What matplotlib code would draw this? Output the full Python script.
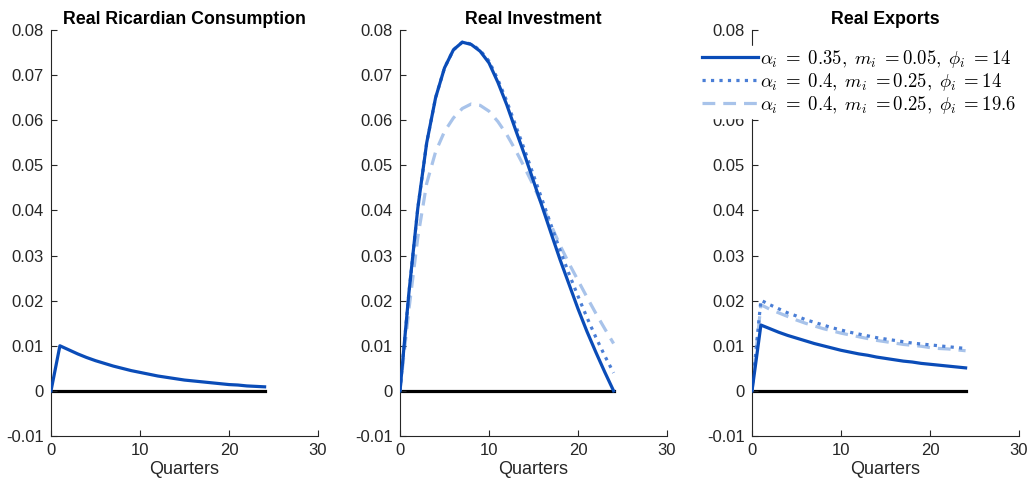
import numpy as np
import matplotlib
matplotlib.use("Agg")
import matplotlib.pyplot as plt

plt.rcParams['font.family'] = ['Liberation Sans', 'DejaVu Sans']
plt.rcParams['mathtext.fontset'] = 'cm'

# data: impulse responses, quarters 0..24
quarters = list(range(25))

cons_base = [0, 0.0100, 0.0091, 0.0082, 0.0074, 0.0067, 0.0061, 0.0055, 0.0050, 0.0045,
             0.0041, 0.0037, 0.0033, 0.0030, 0.0027, 0.0024, 0.0022, 0.0020, 0.0018,
             0.0016, 0.0014, 0.0013, 0.0011, 0.0010, 0.0009]

inv_base = [0, 0.0217, 0.0405, 0.0550, 0.0650, 0.0716, 0.0756, 0.0773, 0.0768, 0.0753,
            0.0727, 0.0684, 0.0634, 0.0578, 0.0523, 0.0465, 0.0407, 0.0348, 0.0290,
            0.0236, 0.0182, 0.0132, 0.0086, 0.0042, 0.0]
inv_alt = [0, 0.0217, 0.0405, 0.0550, 0.0650, 0.0716, 0.0756, 0.0773, 0.0769, 0.0755,
           0.0731, 0.0690, 0.0642, 0.0588, 0.0534, 0.0478, 0.0422, 0.0366, 0.0311,
           0.0259, 0.0210, 0.0163, 0.0119, 0.0078, 0.0040]
inv_phi = [0, 0.0180, 0.0340, 0.0460, 0.0530, 0.0575, 0.0605, 0.0626, 0.0636, 0.0633,
           0.0620, 0.0597, 0.0568, 0.0533, 0.0495, 0.0455, 0.0411, 0.0366, 0.0322,
           0.0282, 0.0245, 0.0208, 0.0172, 0.0138, 0.0105]

exp_base = [0, 0.0146, 0.0138, 0.0130, 0.0123, 0.0117, 0.0111, 0.0105, 0.0100, 0.0095,
            0.0090, 0.0086, 0.0082, 0.0079, 0.0075, 0.0072, 0.0069, 0.0066, 0.0064,
            0.0061, 0.0059, 0.0057, 0.0055, 0.0053, 0.0051]
exp_alt = [0, 0.0201, 0.0191, 0.0182, 0.0173, 0.0166, 0.0158, 0.0152, 0.0146, 0.0140,
           0.0135, 0.0130, 0.0126, 0.0122, 0.0118, 0.0115, 0.0112, 0.0109, 0.0106,
           0.0104, 0.0102, 0.0100, 0.0098, 0.0096, 0.0094]
exp_phi = [0, 0.0191, 0.0181, 0.0173, 0.0165, 0.0157, 0.0150, 0.0144, 0.0138, 0.0133,
           0.0128, 0.0124, 0.0120, 0.0116, 0.0112, 0.0109, 0.0106, 0.0103, 0.0101,
           0.0099, 0.0096, 0.0094, 0.0093, 0.0091, 0.0089]

titles = ["Real Ricardian Consumption", "Real Investment", "Real Exports"]
labels = [r'$\alpha_i\;=\;0.35,\;m_i\;=0.05,\;\phi_i\;=14$',
          r'$\alpha_i\;=\;0.4,\;m_i\;=0.25,\;\phi_i\;=14$',
          r'$\alpha_i\;=\;0.4,\;m_i\;=0.25,\;\phi_i\;=19.6$']
yticks = [-0.01, 0, 0.01, 0.02, 0.03, 0.04, 0.05, 0.06, 0.07, 0.08]
ytick_labels = ['-0.01', '0', '0.01', '0.02', '0.03', '0.04', '0.05', '0.06', '0.07', '0.08']
xticks = [0, 10, 20, 30]

c_solid = '#0a4cb8'
c_dot = '#4a7ed6'
c_dash = '#a8c3ea'
axis_grey = '#262626'

fig = plt.figure(figsize=(10.29, 4.87), dpi=100)
lefts = [51 / 1029, 400 / 1029, 752 / 1029]
width = 267 / 1029
bottom = 51 / 487
height = 406 / 487

panels = [[cons_base], [inv_base, inv_alt, inv_phi], [exp_base, exp_alt, exp_phi]]
styles = [dict(color=c_solid, linestyle='-', linewidth=2.3),
          dict(color=c_dot, linestyle=':', linewidth=2.3),
          dict(color=c_dash, linestyle=(0, (4, 2.5)), linewidth=2.3)]

handles = []
for i in range(3):
    ax = fig.add_axes([lefts[i], bottom, width, height])
    ax.plot(quarters, np.zeros(len(quarters)), color='black', linewidth=2.3, zorder=1)
    # draw in reverse so the solid line sits on top
    for j in reversed(range(len(panels[i]))):
        ln, = ax.plot(quarters, panels[i][j], zorder=3 - j, label=labels[j], **styles[j])
        if i == 2:
            handles.insert(0, ln)
    ax.set_xlim(0, 30)
    ax.set_ylim(-0.01, 0.08)
    ax.set_xticks(xticks)
    ax.set_yticks(yticks)
    ax.set_yticklabels(ytick_labels)
    ax.spines['top'].set_visible(False)
    ax.spines['right'].set_visible(False)
    for s in ['left', 'bottom']:
        ax.spines[s].set_color(axis_grey)
        ax.spines[s].set_linewidth(0.8)
    ax.tick_params(direction='in', length=4, width=0.8, colors=axis_grey,
                   labelsize=12, pad=5)
    ax.set_title(titles[i], fontsize=12.8, fontweight='bold', pad=4)
    ax.set_xlabel("Quarters", fontsize=13, color=axis_grey, labelpad=2)

leg = fig.legend(handles=handles, labels=labels, loc='upper left',
                 bbox_to_anchor=(700 / 1029, 1 - 46 / 487), frameon=True,
                 fontsize=13.5, handlelength=3.0, handletextpad=0.1,
                 labelspacing=0.05, borderpad=0.1, borderaxespad=0)
leg.get_frame().set_facecolor('white')
leg.get_frame().set_edgecolor('white')
leg.get_frame().set_alpha(1)

fig.savefig("out.png", dpi=100)
